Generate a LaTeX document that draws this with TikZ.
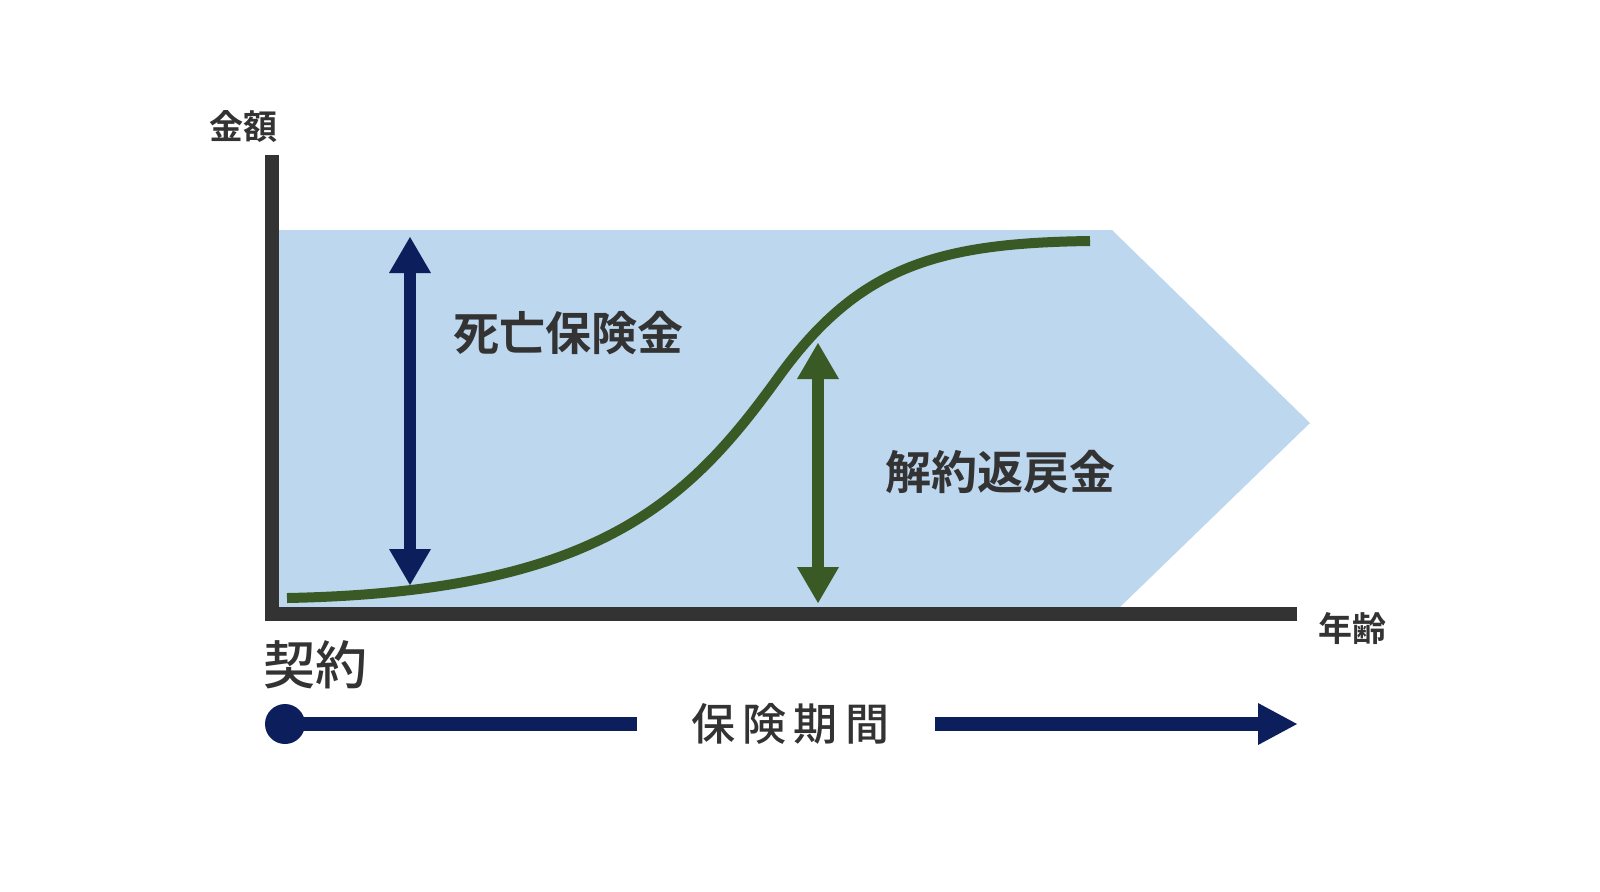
\documentclass[tikz,border=0pt]{standalone}
\usepackage{fontspec}
\newfontfamily\jpb{Noto Sans CJK JP Bold}
\newfontfamily\jpm{Noto Sans CJK JP Medium}
\definecolor{axisc}{HTML}{333333}
\definecolor{bluef}{HTML}{BDD7EE}
\definecolor{greenc}{HTML}{3A5A25}
\definecolor{navy}{HTML}{0C1F5C}
\tikzset{lbl/.style={font=\jpb\fontsize{23}{26}\selectfont,text=axisc},
small/.style={font=\jpb\fontsize{17}{20}\selectfont,text=axisc}}
\begin{document}
\begin{tikzpicture}[x=0.5pt,y=-0.5pt]
\useasboundingbox (0,0) rectangle (1600,891);
\fill[bluef] (279,230) -- (1112,230) -- (1310,423) -- (1120,607) -- (279,607) -- cycle;
\fill[axisc] (265,155) rectangle (279,621);
\fill[axisc] (265,607) rectangle (1297,621);
\draw[greenc,line width=5pt] (287,598) .. controls (600,592) and (690,500) .. (780,375) .. controls (860,265) and (940,243) .. (1090,241);
% navy double arrow
\coordinate (a1) at (410,237); \coordinate (a2) at (410,585);
\draw[navy,line width=6pt] (410,272) -- (410,550);
\fill[navy] (a1) -- (431,273) -- (389,273) -- cycle;
\fill[navy] (a2) -- (431,549) -- (389,549) -- cycle;
% green double arrow
\coordinate (g1) at (818,343); \coordinate (g2) at (818,603);
\draw[greenc,line width=6pt] (818,378) -- (818,568);
\fill[greenc] (g1) -- (839,379) -- (797,379) -- cycle;
\fill[greenc] (g2) -- (839,567) -- (797,567) -- cycle;
\node[lbl] (death) at (568,333) {死亡保険金};
\node[lbl] (surr) at (1000,472) {解約返戻金};
\node[small] (yl) at (243,127) {金額};
\node[small] (xl) at (1352,628) {年齢};
\node[font=\jpm\fontsize{26}{30}\selectfont,text=axisc] (k) at (315,665) {契約};
\node[font=\jpm\fontsize{22}{26}\selectfont,text=axisc] (p) at (790,724) {保\,険\,期\,間};
\fill[navy] (285,724) circle (20);
\draw[navy,line width=7pt] (285,724) -- (637,724);
\draw[navy,line width=7pt] (935,724) -- (1262,724);
\fill[navy] (1297,724) -- (1258,703) -- (1258,745) -- cycle;
\end{tikzpicture}
\end{document}
